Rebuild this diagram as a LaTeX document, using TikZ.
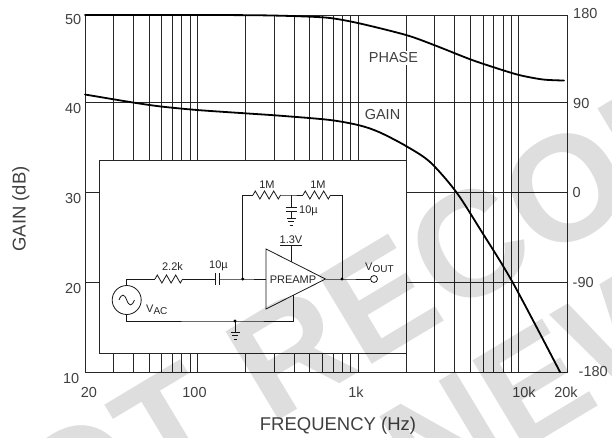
\documentclass[tikz,border=0pt]{standalone}
\usepackage{fontspec}
\setmainfont{Liberation Sans}
\begin{document}
\begin{tikzpicture}[x=1pt,y=-1pt,
  gl/.style={line width=0.8pt,black!85},
  curve/.style={line width=1.8pt,line join=round,line cap=round},
  wire/.style={line width=0.8pt,black!90},
  ax/.style={font=\fontsize{14.5}{16}\selectfont,text=black!75,inner sep=0pt},
  ttl/.style={font=\fontsize{18.5}{20}\selectfont,text=black!75,inner sep=0pt},
  cl/.style={font=\fontsize{11}{12}\selectfont,text=black!85,inner sep=0pt},
  dot/.style={circle,fill=black,inner sep=0pt,minimum size=3.2pt},
  wm/.style={font=\fontsize{150}{150}\selectfont\bfseries,text=black,opacity=0.13,inner sep=0pt,rotate=31},
  zres/.pic={\draw[wire] (0,0) -- ++(2.3,-4) -- ++(4.6,8) -- ++(4.6,-8) -- ++(4.6,8) -- ++(4.6,-8) -- ++(4.6,8) -- ++(2.3,-4);}
]
\useasboundingbox (0,0) rectangle (612,437);
% vertical grid lines
\foreach \f in {30,40,50,60,70,80,90,100,200,300,400,500,600,700,800,900,1000,2000,3000,4000,5000,6000,7000,8000,9000,10000}
  \draw[gl] ({85+160.667*log10(\f/20)},15) -- ({85+160.667*log10(\f/20)},372);
% horizontal grid lines
\foreach \y in {102.5,192,282}
  \draw[gl] (85,\y) -- (567,\y);
\draw[gl] (85,15) rectangle (567,372);
% curves
\draw[curve] plot[smooth] coordinates {(85,15) (200,15) (260,15.3) (300,16.3) (330,18) (360,23.5) (406,35) (434,45) (470.7,59.5) (496,68) (519,75) (543,79.5) (564,80.5)};
\draw[curve] plot[smooth] coordinates {(85,94.5) (133,102.5) (161,106.5) (197,110) (245,113.3) (280,115.7) (330,120) (360,125.5) (380,132.5) (406,146) (430,162) (456,191.7) (480,229) (513,283) (560,372)};
\node[ax,fill=white,inner sep=1.5pt] (phl) at (393.5,58) {PHASE};
\node[ax,fill=white,inner sep=1.5pt] (gnl) at (382.5,114.5) {GAIN};
% axis labels
\node[ax,anchor=north east] (l50) at (81.5,14.5) {50};
\node[ax,anchor=north east] (l40) at (81.5,103.5) {40};
\node[ax,anchor=north east] (l30) at (81.5,193.5) {30};
\node[ax,anchor=north east] (l20) at (81.5,283) {20};
\node[ax,anchor=north east] (l10) at (79.5,373) {10};
\node[ax,anchor=west] (r180) at (573,14) {180};
\node[ax,anchor=west] (r90) at (573,104) {90};
\node[ax,anchor=west] (r0) at (572.5,192.5) {0};
\node[ax,anchor=west] (rm90) at (572.5,282.5) {-90};
\node[ax,anchor=west] (rm180) at (578.5,371) {-180};
\node[ax] (b20) at (89,392.5) {20};
\node[ax] (b100) at (194.5,392.5) {100};
\node[ax] (b1k) at (356,392.5) {1k};
\node[ax] (b10k) at (524,392.5) {10k};
\node[ax] (b20k) at (566,392.5) {20k};
\node[ttl,anchor=base] (xt) at (338,430) {FREQUENCY (Hz)};
\node[ttl,anchor=base,rotate=90] (yt) at (25.5,209) {GAIN (dB)};
% inset
\draw[gl,fill=white] (99.5,160) rectangle (406,353.5);
% circuit coordinates
\coordinate (tl) at (126.7,279);
\coordinate (r1a) at (155,279);
\coordinate (r1b) at (182.6,279);
\coordinate (c1a) at (215,279);
\coordinate (c1b) at (219.5,279);
\coordinate (j1) at (242.7,279);
\coordinate (ampL) at (266,279);
\coordinate (ampT) at (266,249);
\coordinate (ampB) at (266,309);
\coordinate (ampO) at (325.5,279);
\coordinate (j2) at (342,279);
\coordinate (fbL) at (242.7,195);
\coordinate (fbR) at (342,195);
\coordinate (ra) at (253,195);
\coordinate (rab) at (280.6,195);
\coordinate (jm) at (291,195);
\coordinate (rb) at (303,195);
\coordinate (rbb) at (330.6,195);
\coordinate (bl) at (126.7,321);
\coordinate (gj) at (235,321);
\coordinate (br) at (293.3,321);
\coordinate (bt) at (293.3,295.2);
\coordinate (vt) at (291,261.6);
\coordinate (vb) at (291,245);
% source
\node[circle,draw,wire,minimum size=29pt,inner sep=0pt] (src) at (126.7,300) {};
\draw[wire] (119,300) .. controls (121.5,293.5) and (124.3,293.5) .. (126.7,300) .. controls (129.1,306.5) and (132,306.5) .. (134.4,300);
\node[cl,anchor=base west] (vac) at (146,312) {V\raisebox{-2.5pt}{\fontsize{10}{10}\selectfont AC}};
% input path
\draw[wire] (src.north) -- (tl) -- (r1a);
\pic at (r1a) {zres};
\draw[wire] (r1b) -- (c1a);
\draw[wire] (215,273) -- (215,285);
\draw[wire] (219.5,273) -- (219.5,285);
\draw[wire] (c1b) -- (j1) -- (ampL);
\node[cl] (l22k) at (172.5,266.5) {2.2k};
\node[cl] (l10a) at (218.5,266) {10µ};
% amplifier
\draw[wire] (ampT) -- (ampO) -- (ampB) -- cycle;
\node[cl] (pre) at (293,280) {PREAMP};
\draw[wire] (vt) -- (vb);
\draw[wire] (280,245) -- (302,245);
\node[cl,anchor=south] (v13) at (291,243.3) {1.3V};
% bottom return
\draw[wire] (src.south) -- (bl) -- (gj) -- (br) -- (bt);
\draw[wire] (gj) -- (235,332);
\draw[wire] (230.5,332) -- (239.5,332) (232,335.5) -- (238,335.5) (233.5,339) -- (236.5,339);
% output
\node[circle,draw,wire,fill=white,minimum size=7pt,inner sep=0pt] (vo) at (374,279) {};
\draw[wire] (ampO) -- (j2) -- (vo);
\node[cl,anchor=base west] (vout) at (365,270) {V\raisebox{-2.5pt}{\fontsize{10}{10}\selectfont OUT}};
% feedback
\draw[wire] (j1) -- (fbL) -- (ra);
\pic at (ra) {zres};
\draw[wire] (rab) -- (jm) -- (rb);
\pic at (rb) {zres};
\draw[wire] (rbb) -- (fbR) -- (j2);
\node[cl] (l1ma) at (267,185) {1M};
\node[cl] (l1mb) at (318,185) {1M};
\draw[wire] (jm) -- (291,207);
\draw[wire] (285.5,207) -- (296.5,207) (285.5,211) -- (296.5,211);
\draw[wire] (291,211) -- (291,218);
\draw[wire] (286.5,218) -- (295.5,218) (288,221.5) -- (294,221.5) (289.5,225) -- (292.5,225);
\node[cl,anchor=west] (l10b) at (299,211) {10µ};
% dots
\node[dot] (d1) at (j1) {};
\node[dot] (d2) at (j2) {};
\node[dot] (d3) at (gj) {};
% watermark
\node[wm,anchor=base east] (wmA) at (449.5,318) {NOT RE};
\node[wm,anchor=base west] (wmB) at (449.5,318) {COMMENDED};
\node[wm,anchor=base] (wmC) at (728,328) {FOR NEW DESIGNS};
\end{tikzpicture}
\end{document}
